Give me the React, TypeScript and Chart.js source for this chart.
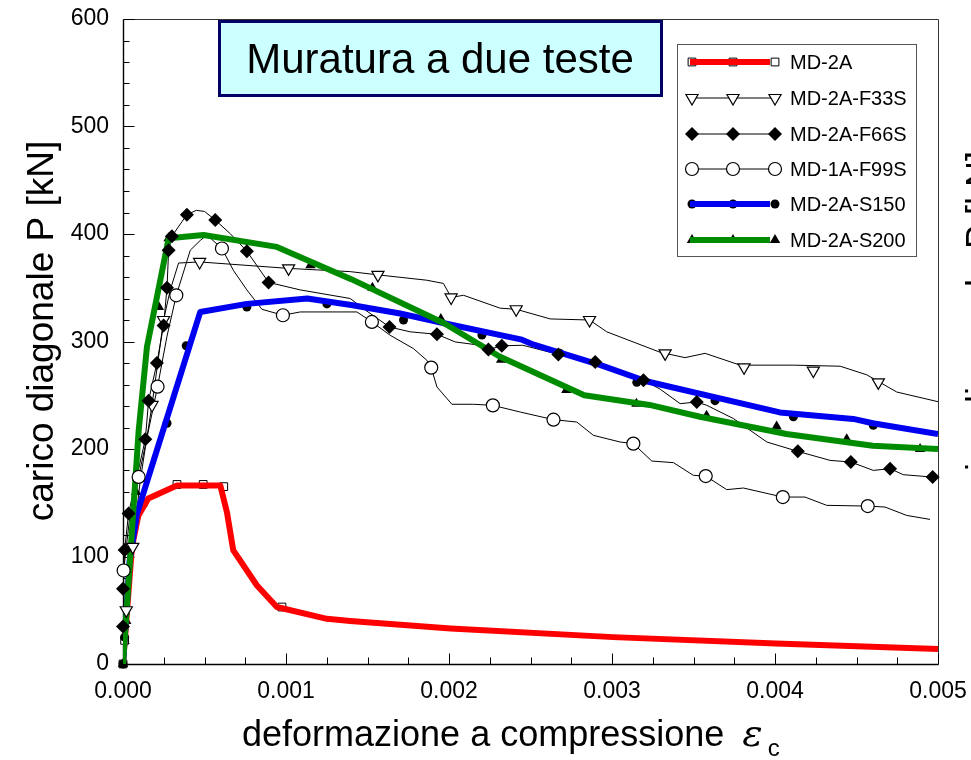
import { useEffect, useRef } from 'react';
import { Chart, registerables } from 'chart.js';

Chart.register(...registerables);

const FONT = '"Liberation Sans", Arial, Helvetica, sans-serif';

// ---------- data (strain, kN) ----------
const seriesNames = ['MD-2A', 'MD-2A-F33S', 'MD-2A-F66S', 'MD-1A-F99S', 'MD-2A-S150', 'MD-2A-S200'];
const chartTitle = 'Muratura a due teste';
const yTitle = 'carico diagonale P [kN]';
const xTitle = 'deformazione a compressione ';
const xTickLabels = ['0.000', '0.001', '0.002', '0.003', '0.004', '0.005'];
const yTickLabels = ['0', '100', '200', '300', '400', '500', '600'];

const md2aLine = [[0, 0], [0.000055, 109], [0.000094, 138], [0.000155, 154], [0.000331, 166], [0.000492, 166], [0.000597, 166], [0.000638, 141], [0.000676, 106], [0.000822, 73], [0.000944, 53], [0.001251, 42], [0.001394, 40], [0.00201, 33], [0.003007, 25], [0.004006, 19], [0.005, 14]];
const md2aMarks = [[0, 0], [0.00001, 22], [0.000331, 167], [0.000492, 167], [0.000618, 165], [0.000975, 53]];

const f33sLine = [[0, 0], [0.00002, 50], [0.00005, 96], [0.000106, 171], [0.000178, 241], [0.000249, 320], [0.00029, 348], [0.000341, 373], [0.00047, 374], [0.001016, 368], [0.001394, 365], [0.001564, 362], [0.001864, 357], [0.001966, 354], [0.002013, 341], [0.002089, 343], [0.002314, 331], [0.002412, 330], [0.002621, 321], [0.002862, 320], [0.002968, 309], [0.003295, 290], [0.003448, 285], [0.003571, 289], [0.003786, 278], [0.004113, 278], [0.0044, 277], [0.004563, 269], [0.004747, 253], [0.005, 244]];
const f33sMarks = [[0.00002, 50], [0.00006, 109], [0.000178, 241], [0.000249, 320], [0.00047, 374], [0.001016, 368], [0.001564, 362], [0.002013, 341], [0.002412, 330], [0.002862, 320], [0.003326, 289], [0.00381, 276], [0.004235, 273], [0.004634, 262]];

const f66sLine = [[0, 0], [0, 35], [0, 70], [0.00001, 106], [0.000034, 140], [0.000137, 209], [0.000157, 245], [0.000208, 280], [0.000249, 315], [0.00027, 350], [0.00028, 385], [0.0003, 398], [0.000392, 418], [0.00045, 422], [0.0005, 421], [0.000566, 413], [0.00066, 400], [0.00076, 384], [0.000893, 355], [0.001087, 348], [0.001394, 340], [0.00148, 330], [0.001635, 313.5], [0.001762, 309], [0.001926, 306.7], [0.002038, 299.6], [0.002191, 296.5], [0.002242, 292.5], [0.002324, 296], [0.002453, 296.5], [0.002671, 288], [0.002897, 281], [0.003193, 264], [0.003295, 255.7], [0.003418, 242.2], [0.00352, 243.7], [0.003582, 240.6], [0.003745, 228.3], [0.00395, 206.5], [0.00414, 197.8], [0.004338, 189.4], [0.004465, 187.9], [0.004603, 180.1], [0.004706, 181.7], [0.004787, 176.1], [0.004967, 173.9]];
const f66sMarks = [[0, 35], [0, 70], [0.00001, 106], [0.000034, 140], [0.000137, 209], [0.000157, 245], [0.000208, 280], [0.000249, 315], [0.00027, 350], [0.00028, 385], [0.0003, 398], [0.000392, 418], [0.000566, 413], [0.00076, 384], [0.000893, 355], [0.001635, 313.5], [0.001926, 306.7], [0.002242, 292.5], [0.002324, 296], [0.002671, 288], [0.002897, 281], [0.003193, 264], [0.00352, 243.7], [0.00414, 197.8], [0.004465, 187.9], [0.004706, 181.7], [0.004967, 173.9]];

const f99sLine = [[0, 0], [0.000004, 87], [0.00004, 135], [0.000096, 174], [0.00016, 220], [0.000212, 258], [0.00027, 305], [0.000327, 343], [0.000413, 385], [0.000474, 394], [0.000515, 399], [0.000607, 386.5], [0.000678, 366], [0.00076, 348], [0.000852, 330], [0.000981, 324.4], [0.001087, 327.5], [0.001435, 327.5], [0.001527, 318.2], [0.001639, 305.8], [0.001782, 293.4], [0.001864, 282.5], [0.001891, 275.7], [0.001926, 257.7], [0.002018, 241.6], [0.00215, 241.6], [0.002269, 240.6], [0.002437, 234.4], [0.002641, 227.3], [0.002784, 225.1], [0.002886, 212.7], [0.00305, 206.5], [0.003131, 205], [0.003244, 188.8], [0.003377, 187.3], [0.003499, 175.5], [0.003575, 174.8], [0.003704, 162.2], [0.003806, 163.7], [0.004048, 155.3], [0.004184, 155.3], [0.004317, 147.6], [0.004569, 146.9], [0.004675, 146], [0.004808, 138.2], [0.004951, 134.5]];
const f99sMarks = [[0.000004, 87], [0.000096, 174], [0.000212, 258], [0.000327, 343], [0.000607, 386.5], [0.000981, 324.4], [0.001527, 318.2], [0.001891, 275.7], [0.002269, 240.6], [0.002641, 227.3], [0.003131, 205], [0.003575, 174.8], [0.004048, 155.3], [0.004569, 146.9]];

const s150Line = [[0, 0], [0.00004, 95], [0.000086, 140], [0.000474, 327.5], [0.00076, 335], [0.00113, 340], [0.0014, 334], [0.0017, 326], [0.00197, 317], [0.00244, 302], [0.00252, 297], [0.00293, 278], [0.00321, 263], [0.00403, 234], [0.00448, 228], [0.0046, 224], [0.005, 214]];
const s150Marks = [[0, 0], [0.00001, 25], [0.000126, 149], [0.00027, 224], [0.000388, 296], [0.00076, 332], [0.001251, 335], [0.001721, 320], [0.002202, 306], [0.00268, 289], [0.003152, 262], [0.003632, 245], [0.004113, 230], [0.004603, 222]];

const s200Line = [[0, 0], [0.000096, 217], [0.000147, 295], [0.00028, 396], [0.000494, 399], [0.000944, 388], [0.0014, 358], [0.00197, 317], [0.00231, 286], [0.00283, 250], [0.00323, 241], [0.00354, 230], [0.00407, 214], [0.0046, 203], [0.005, 200]];
const s200Marks = [[0, 0], [0.00002, 40], [0.00008, 160], [0.00022, 332], [0.00028, 396], [0.00115, 371], [0.00153, 350], [0.00195, 321], [0.00232, 283], [0.00272, 255], [0.00315, 242], [0.00358, 231], [0.00401, 221], [0.00444, 209], [0.00489, 200]];

// ---------- styles ----------
const RED = '#ff0000';
const BLUE = '#0000f0';
const GREEN = '#008c00';

const pts = (a: number[][]) => a.map(([x, y]) => ({ x, y }));

type MarkerStyle = { style: string; r: number; fill: string; lw: number };
const markerStyles: MarkerStyle[] = [
  { style: 'rect', r: 5.5, fill: '#ffffff', lw: 1 },
  { style: 'triangleDown', r: 7, fill: '#ffffff', lw: 1.2 },
  { style: 'rectRot', r: 7, fill: '#000000', lw: 0 },
  { style: 'circle', r: 6.5, fill: '#ffffff', lw: 1.2 },
  { style: 'circle', r: 4.5, fill: '#000000', lw: 0 },
  { style: 'triangle', r: 6, fill: '#000000', lw: 0 },
];
const legendLine = [
  { color: RED, width: 6, thick: true },
  { color: '#000', width: 1, thick: false },
  { color: '#000', width: 1, thick: false },
  { color: '#000', width: 1, thick: false },
  { color: BLUE, width: 6, thick: true },
  { color: GREEN, width: 6, thick: true },
];

function drawMarker(ctx: CanvasRenderingContext2D, m: MarkerStyle, x: number, y: number) {
  const r = m.r;
  ctx.beginPath();
  if (m.style === 'circle') ctx.arc(x, y, r, 0, Math.PI * 2);
  else if (m.style === 'rect') {
    const s = r * Math.SQRT1_2;
    ctx.rect(x - s, y - s, 2 * s, 2 * s);
  } else if (m.style === 'rectRot') {
    ctx.moveTo(x, y - r); ctx.lineTo(x + r, y); ctx.lineTo(x, y + r); ctx.lineTo(x - r, y); ctx.closePath();
  } else if (m.style === 'triangle') {
    ctx.moveTo(x, y - r); ctx.lineTo(x + 0.866 * r, y + 0.5 * r); ctx.lineTo(x - 0.866 * r, y + 0.5 * r); ctx.closePath();
  } else if (m.style === 'triangleDown') {
    ctx.moveTo(x, y + r); ctx.lineTo(x + 0.866 * r, y - 0.5 * r); ctx.lineTo(x - 0.866 * r, y - 0.5 * r); ctx.closePath();
  }
  ctx.fillStyle = m.fill;
  ctx.fill();
  if (m.lw > 0) {
    ctx.lineWidth = m.lw;
    ctx.strokeStyle = '#000';
    ctx.stroke();
  }
}

function markDataset(data: number[][], m: MarkerStyle, order: number) {
  const isDown = m.style === 'triangleDown';
  return {
    data: pts(data),
    showLine: false,
    pointStyle: isDown ? 'triangle' : m.style,
    rotation: isDown ? 180 : 0,
    pointRotation: isDown ? 180 : 0,
    pointRadius: m.r,
    pointBackgroundColor: m.fill,
    pointBorderColor: '#000',
    pointBorderWidth: m.lw,
    order,
    clip: 10,
  };
}

function lineDataset(data: number[][], color: string, width: number, order: number) {
  return {
    data: pts(data),
    borderColor: color,
    borderWidth: width,
    pointRadius: 0,
    borderJoinStyle: 'round',
    fill: false,
    tension: 0,
    order,
  };
}

const zeroPad = (s: any) => {
  s.paddingTop = 0;
  s.paddingBottom = 0;
  s.paddingLeft = 0;
  s.paddingRight = 0;
};

const decoPlugin = {
  id: 'deco',
  beforeDatasetsDraw(chart: any) {
    const { ctx, chartArea: a, scales } = chart;
    const x = scales.x, y = scales.y;
    const L = Math.round(a.left) + 0.5, R = Math.round(a.right) + 0.5;
    const T = Math.round(a.top) + 0.5, B = Math.round(a.bottom) + 0.5;
    ctx.save();
    ctx.strokeStyle = '#333';
    ctx.lineWidth = 1;
    ctx.beginPath();
    ctx.moveTo(L, T); ctx.lineTo(R, T); ctx.lineTo(R, B);
    ctx.stroke();
    ctx.strokeStyle = '#000';
    ctx.lineWidth = 1.4;
    ctx.beginPath();
    ctx.moveTo(L, T); ctx.lineTo(L, B); ctx.lineTo(R, B);
    ctx.stroke();
    ctx.lineWidth = 1;
    ctx.beginPath();
    for (let v = 0; v <= 600; v += 20) {
      const py = Math.round(y.getPixelForValue(v)) + 0.5;
      const len = v % 100 === 0 ? 11 : 6;
      ctx.moveTo(L, py); ctx.lineTo(L + len, py);
    }
    for (let i = 0; i <= 20; i++) {
      const px = Math.round(x.getPixelForValue(i * 0.00025)) + 0.5;
      const len = i % 4 === 0 ? 11 : 7;
      ctx.moveTo(px, B); ctx.lineTo(px, B - len);
    }
    ctx.stroke();
    ctx.restore();
  },
  afterDraw(chart: any) {
    const { ctx } = chart;
    ctx.save();
    // title box
    ctx.fillStyle = '#ccffff';
    ctx.fillRect(218, 20, 445, 77);
    ctx.strokeStyle = '#000066';
    ctx.lineWidth = 3;
    ctx.strokeRect(219.5, 21.5, 442, 74);
    ctx.fillStyle = '#000';
    ctx.font = `42px ${FONT}`;
    ctx.textAlign = 'center';
    ctx.textBaseline = 'alphabetic';
    ctx.fillText(chartTitle, 440, 73);

    // legend
    ctx.fillStyle = '#fff';
    ctx.fillRect(677, 44, 240, 213);
    ctx.strokeStyle = '#555';
    ctx.lineWidth = 1;
    ctx.strokeRect(677.5, 44.5, 239, 212);
    const rows = [62, 98, 134, 169, 204, 240];
    const mx = [692, 733, 775];
    ctx.font = `20px ${FONT}`;
    ctx.textAlign = 'left';
    ctx.textBaseline = 'middle';
    seriesNames.forEach((name, i) => {
      const ry = rows[i];
      const ln = legendLine[i];
      const m = markerStyles[i];
      const drawL = () => {
        ctx.strokeStyle = ln.color;
        ctx.lineWidth = ln.width;
        ctx.beginPath();
        ctx.moveTo(ln.thick ? 690 : 692, ry);
        ctx.lineTo(ln.thick ? 770 : 775, ry);
        ctx.stroke();
      };
      if (!ln.thick) drawL();
      mx.forEach((px) => drawMarker(ctx, m, px, ry));
      if (ln.thick) drawL();
      ctx.fillStyle = '#000';
      ctx.fillText(name, 790, ry + 1);
    });

    // axis titles
    ctx.fillStyle = '#000';
    ctx.textBaseline = 'alphabetic';
    ctx.save();
    ctx.translate(53, 331);
    ctx.rotate(-Math.PI / 2);
    ctx.textAlign = 'center';
    ctx.font = `37px ${FONT}`;
    ctx.fillText(yTitle, 0, 0);
    ctx.restore();

    ctx.textAlign = 'left';
    ctx.font = `36px ${FONT}`;
    ctx.fillText(xTitle, 242, 746);
    const w = ctx.measureText(xTitle).width;
    ctx.font = `italic 38px "DejaVu Serif", "Liberation Serif", serif`;
    ctx.fillText('ε', 242 + w + 8, 746);
    const we = ctx.measureText('ε').width;
    ctx.font = `24px ${FONT}`;
    ctx.fillText('c', 242 + w + 13 + we, 756);

    // neighbouring figure's axis title, cut by the frame edge
    ctx.save();
    ctx.translate(992, 336);
    ctx.rotate(-Math.PI / 2);
    ctx.textAlign = 'center';
    ctx.font = `36px ${FONT}`;
    ctx.fillText(yTitle, 0, 0);
    ctx.restore();
    ctx.restore();
  },
};

export default function App() {
  const ref = useRef<HTMLCanvasElement>(null);
  useEffect(() => {
    if (!ref.current) return;
    const chart = new Chart(ref.current, {
      type: 'line',
      data: {
        datasets: [
          markDataset(f66sMarks, markerStyles[2], 0),
          markDataset(f33sMarks, markerStyles[1], 0),
          markDataset(f99sMarks, markerStyles[3], 0),
          lineDataset(s200Line, GREEN, 6, 1),
          lineDataset(s150Line, BLUE, 6, 2),
          lineDataset(md2aLine, RED, 6, 3),
          markDataset(s200Marks, markerStyles[5], 4),
          markDataset(s150Marks, markerStyles[4], 4),
          markDataset(md2aMarks, markerStyles[0], 4),
          lineDataset(f33sLine, '#000', 1, 5),
          lineDataset(f66sLine, '#000', 1, 5),
          lineDataset(f99sLine, '#000', 1, 5),
        ] as any,
      },
      options: {
        responsive: false,
        animation: false,
        events: [],
        layout: { padding: { left: 0, right: 33, top: 19, bottom: 0 } },
        plugins: { legend: { display: false }, tooltip: { enabled: false }, title: { display: false } },
        scales: {
          x: {
            type: 'linear',
            min: 0,
            max: 0.005,
            afterFit: (s: any) => { s.height = 96; zeroPad(s); },
            grid: { display: false, drawTicks: false },
            border: { display: false },
            ticks: {
              stepSize: 0.001,
              padding: 14,
              autoSkip: false,
              maxRotation: 0,
              color: '#000',
              font: { family: FONT, size: 23 },
              callback: (v: any) => xTickLabels[Math.round(Number(v) / 0.001)] ?? '',
            },
          },
          y: {
            type: 'linear',
            min: 0,
            max: 600,
            afterFit: (s: any) => { s.width = 123; zeroPad(s); },
            grid: { display: false, drawTicks: false },
            border: { display: false },
            ticks: {
              stepSize: 100,
              padding: 14,
              color: '#000',
              font: { family: FONT, size: 23 },
              callback: (v: any) => yTickLabels[Math.round(Number(v) / 100)] ?? '',
            },
          },
        },
      } as any,
      plugins: [decoPlugin],
    });
    return () => chart.destroy();
  }, []);
  return (
    <div style={{ position: 'absolute', left: 0, top: 0, width: 971, height: 760, background: '#fff' }}>
      <canvas ref={ref} width={971} height={760} style={{ display: 'block' }} />
    </div>
  );
}
